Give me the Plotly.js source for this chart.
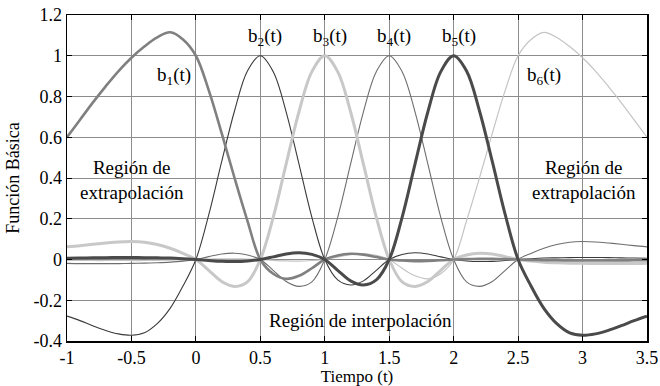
<!DOCTYPE html>
<html>
<head>
<meta charset="utf-8">
<script src="https://cdn.plot.ly/plotly-3.0.1.min.js"></script>
<style>
  html, body { margin: 0; padding: 0; background: #fff; }
  #chart { width: 660px; height: 386px; }
</style>
</head>
<body>
<div id="chart"></div>
<script>
// Sample times (t)
const t = [-1, -0.9, -0.8, -0.7, -0.6, -0.5, -0.4, -0.3, -0.2, -0.1,
  0, 0.1, 0.2, 0.3, 0.4, 0.5, 0.6, 0.7, 0.8, 0.9,
  1, 1.1, 1.2, 1.3, 1.4, 1.5, 1.6, 1.7, 1.8, 1.9,
  2, 2.1, 2.2, 2.3, 2.4, 2.5, 2.6, 2.7, 2.8, 2.9,
  3, 3.1, 3.2, 3.3, 3.4, 3.5];

// Basis functions b1(t) ... b6(t)
const b1 = [0.60, 0.685, 0.77, 0.85, 0.925, 0.99, 1.045, 1.09, 1.115, 1.08,
  1.0, 0.83, 0.62, 0.40, 0.19, 0, -0.07, -0.095, -0.08, -0.043,
  0, 0.02, 0.028, 0.024, 0.012, 0, -0.005, -0.008, -0.007, -0.004,
  0, 0.002, 0.003, 0.003, 0.002, 0, -0.002, -0.003, -0.004, -0.005,
  -0.005, -0.005, -0.005, -0.005, -0.004, -0.004];

const b2 = [-0.278, -0.30, -0.325, -0.348, -0.365, -0.372, -0.36, -0.315, -0.24, -0.13,
  0, 0.22, 0.48, 0.73, 0.925, 1.0, 0.922, 0.725, 0.468, 0.207,
  0, -0.10, -0.125, -0.105, -0.053, 0, 0.025, 0.033, 0.027, 0.013,
  0, -0.007, -0.01, -0.009, -0.005, 0, 0.004, 0.007, 0.008, 0.009,
  0.01, 0.01, 0.009, 0.008, 0.007, 0.006];

const b3 = [0.062, 0.068, 0.075, 0.081, 0.086, 0.088, 0.085, 0.074, 0.055, 0.03,
  0, -0.053, -0.108, -0.132, -0.11, 0, 0.207, 0.468, 0.725, 0.922,
  1.0, 0.922, 0.725, 0.468, 0.207, 0, -0.11, -0.132, -0.108, -0.053,
  0, 0.022, 0.031, 0.027, 0.014, 0, -0.008, -0.013, -0.016, -0.018,
  -0.019, -0.02, -0.02, -0.02, -0.02, -0.019];

const b4 = [-0.019, -0.02, -0.02, -0.02, -0.02, -0.019, -0.018, -0.016, -0.013, -0.008,
  0, 0.014, 0.027, 0.031, 0.022, 0, -0.053, -0.108, -0.132, -0.11,
  0, 0.207, 0.468, 0.725, 0.922, 1.0, 0.922, 0.725, 0.468, 0.207,
  0, -0.11, -0.132, -0.108, -0.053, 0, 0.03, 0.055, 0.074, 0.085,
  0.088, 0.086, 0.081, 0.075, 0.068, 0.062];

const b5 = [0.006, 0.007, 0.008, 0.009, 0.01, 0.01, 0.009, 0.008, 0.007, 0.004,
  0, -0.005, -0.009, -0.01, -0.007, 0, 0.013, 0.027, 0.033, 0.025,
  0, -0.053, -0.105, -0.125, -0.10, 0, 0.207, 0.468, 0.725, 0.922,
  1.0, 0.925, 0.73, 0.48, 0.22, 0, -0.13, -0.24, -0.315, -0.36,
  -0.372, -0.365, -0.348, -0.325, -0.30, -0.278];

const b6 = [-0.004, -0.004, -0.005, -0.005, -0.005, -0.005, -0.005, -0.004, -0.003, -0.002,
  0, 0.002, 0.003, 0.003, 0.002, 0, -0.004, -0.007, -0.008, -0.005,
  0, 0.012, 0.024, 0.028, 0.02, 0, -0.043, -0.08, -0.095, -0.07,
  0, 0.19, 0.40, 0.62, 0.83, 1.0, 1.08, 1.115, 1.09, 1.045,
  0.99, 0.925, 0.85, 0.77, 0.685, 0.60];

// Axis ticks
const xTicks = [-1, -0.5, 0, 0.5, 1, 1.5, 2, 2.5, 3, 3.5];
const xTickText = ["-1", "-0.5", "0", "0.5", "1", "1.5", "2", "2.5", "3", "3.5"];
const yTicks = [-0.4, -0.2, 0, 0.2, 0.4, 0.6, 0.8, 1, 1.2];
const yTickText = ["-0.4", "-0.2", "0", "0.2", "0.4", "0.6", "0.8", "1", "1.2"];

const serif = "Liberation Serif, Times New Roman, serif";

function curve(y, color, width) {
  return {
    x: t, y: y, type: "scatter", mode: "lines",
    line: { color: color, width: width, shape: "spline", smoothing: 1 },
    hoverinfo: "skip", showlegend: false
  };
}

const data = [
  curve(b6, "#c4c4c4", 1.2),
  curve(b4, "#6e6e6e", 1.1),
  curve(b2, "#3a3a3a", 1.1),
  curve(b3, "#c8c8c8", 3),
  curve(b1, "#808080", 2.6),
  curve(b5, "#4a4a4a", 3)
];

function label(x, y, text) {
  return { x: x, y: y, xref: "x", yref: "y", text: text, showarrow: false,
           font: { family: serif, size: 19, color: "#000" } };
}

const layout = {
  width: 660, height: 386,
  margin: { l: 67, r: 13, t: 15, b: 45 },
  paper_bgcolor: "#fff", plot_bgcolor: "#fff",
  font: { family: serif, size: 18, color: "#000" },
  xaxis: {
    range: [-1, 3.5], tickvals: xTicks, ticktext: xTickText,
    showgrid: true, gridcolor: "#8c8c8c", gridwidth: 1, zeroline: false,
    showline: true, linecolor: "#000", linewidth: 1.5, mirror: "ticks",
    ticks: "inside", ticklen: 5, tickcolor: "#000",
    tickfont: { family: serif, size: 18 },
    title: { text: "Tiempo (t)", font: { family: serif, size: 17 }, standoff: 1 }
  },
  yaxis: {
    range: [-0.4, 1.2], tickvals: yTicks, ticktext: yTickText,
    showgrid: true, gridcolor: "#8c8c8c", gridwidth: 1, zeroline: false,
    showline: true, linecolor: "#000", linewidth: 1.5, mirror: "ticks",
    ticks: "inside", ticklen: 5, tickcolor: "#000",
    tickfont: { family: serif, size: 18 },
    title: { text: "Función Básica", font: { family: serif, size: 18 }, standoff: 9 }
  },
  annotations: [
    label(-0.17, 0.9, "b<sub>1</sub>(t)"),
    label(0.54, 1.09, "b<sub>2</sub>(t)"),
    label(1.04, 1.09, "b<sub>3</sub>(t)"),
    label(1.535, 1.09, "b<sub>4</sub>(t)"),
    label(2.04, 1.09, "b<sub>5</sub>(t)"),
    label(2.70, 0.9, "b<sub>6</sub>(t)"),
    label(-0.495, 0.39, "Región de<br>extrapolación"),
    label(3.01, 0.39, "Región de<br>extrapolación"),
    label(1.28, -0.3, "Región de interpolación")
  ]
};

Plotly.newPlot("chart", data, layout, { staticPlot: true, displayModeBar: false });
</script>
</body>
</html>
